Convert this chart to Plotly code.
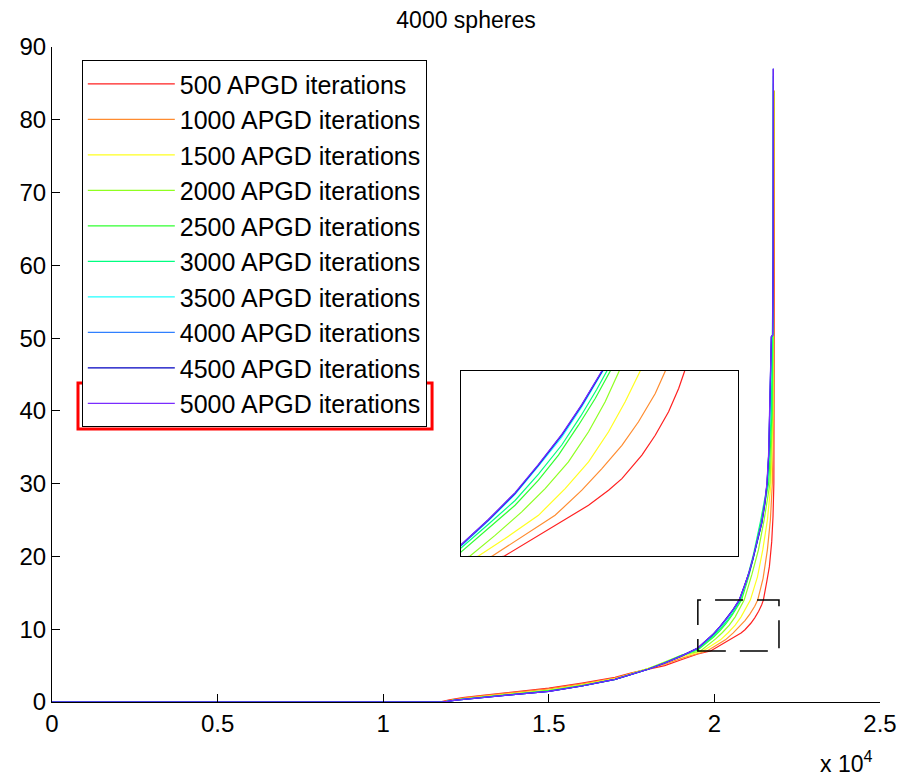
import plotly.graph_objects as go

# ---------------- data ----------------
series_names = ["500 APGD iterations", "1000 APGD iterations", "1500 APGD iterations",
                "2000 APGD iterations", "2500 APGD iterations", "3000 APGD iterations",
                "3500 APGD iterations", "4000 APGD iterations", "4500 APGD iterations",
                "5000 APGD iterations"]
series_colors = ["#ff2020", "#ff8c30", "#ffff20", "#90ff20", "#30ff30", "#00ff80",
                 "#20ffff", "#3080ff", "#0000c0", "#7a2cff"]

x_500 = [0, 11700, 12000, 12400, 13000, 14000, 15000, 16000, 17000, 17500, 18000, 18500, 19000, 19500,
         19884, 20037, 20214, 20450, 20628, 20805, 20923, 21100, 21218, 21336, 21425, 21478,
         21580, 21660, 21730, 21770, 21795, 21805, 21810, 21810]
y_500 = [0, 0, 0.3, 0.6, 0.9, 1.4, 1.9, 2.6, 3.4, 4.0, 4.5, 5.0, 5.8, 6.6,
         7.0, 7.4, 7.85, 8.48, 8.92, 9.49, 9.93, 10.82, 11.57, 12.46, 13.34, 14.0,
         16.5, 18.6, 22.0, 25.5, 30.0, 40.0, 60.0, 84.0]

x_1000 = [0, 11750, 12100, 12500, 13000, 14000, 15000, 16000, 17000, 18000, 18500, 19000, 19500,
          19777, 20037, 20332, 20569, 20746, 20923, 21070, 21218, 21307,
          21470, 21600, 21690, 21750, 21790, 21800, 21800]
y_1000 = [0, 0, 0.3, 0.6, 0.85, 1.3, 1.8, 2.5, 3.3, 4.6, 5.2, 6.0, 6.6,
          7.0, 7.72, 8.54, 9.49, 10.31, 11.19, 12.08, 13.15, 14.0,
          17.0, 20.9, 25.0, 30.1, 40.0, 60.0, 84.0]

x_1500 = [0, 11800, 12200, 13000, 14000, 15000, 16000, 17000, 18000, 18500, 19000,
          19654, 19890, 20185, 20421, 20628, 20805, 20952, 21085,
          21300, 21460, 21600, 21710, 21770, 21790, 21795]
y_1500 = [0, 0, 0.3, 0.75, 1.2, 1.65, 2.35, 3.2, 4.6, 5.4, 6.2,
          7.0, 7.66, 8.54, 9.55, 10.56, 11.70, 12.84, 14.0,
          17.2, 20.9, 25.0, 30.1, 40.0, 60.0, 84.0]

x_2000 = [0, 11800, 12200, 13000, 14000, 15000, 16000, 17000, 18000, 18500, 19000,
          19580, 19801, 20037, 20244, 20450, 20628, 20775, 20899,
          21130, 21330, 21500, 21680, 21760, 21785, 21790]
y_2000 = [0, 0, 0.3, 0.7, 1.15, 1.6, 2.3, 3.15, 4.6, 5.5, 6.4,
          7.0, 7.78, 8.67, 9.55, 10.56, 11.70, 12.84, 14.0,
          17.5, 20.9, 25.0, 30.1, 40.0, 60.0, 84.0]

x_2500 = [0, 11800, 12200, 13000, 14000, 15000, 16000, 17000, 18000, 18500, 19000,
          19500, 19742, 19978, 20185, 20362, 20539, 20687, 20820,
          21040, 21230, 21420, 21640, 21740, 21780, 21785]
y_2500 = [0, 0, 0.3, 0.7, 1.1, 1.55, 2.25, 3.1, 4.5, 5.4, 6.4,
          7.15, 8.04, 8.92, 9.87, 10.82, 11.95, 12.96, 14.0,
          17.3, 20.9, 25.0, 30.1, 40.0, 60.0, 84.0]

x_3000 = [0, 11800, 12200, 13000, 14000, 15000, 16000, 17000, 18000, 18500, 19000,
          19500, 19742, 19978, 20185, 20391, 20560, 20700, 20790,
          20990, 21190, 21400, 21610, 21720, 21775, 21782]
y_3000 = [0, 0, 0.28, 0.68, 1.08, 1.5, 2.22, 3.1, 4.5, 5.38, 6.35,
          7.3, 8.2, 9.1, 10.1, 11.2, 12.3, 13.3, 14.0,
          17.0, 20.5, 25.0, 30.1, 40.0, 60.0, 85.0]

x_3500 = [0, 11800, 12200, 13000, 14000, 15000, 16000, 17000, 18000, 18500, 19000,
          19500, 19742, 19978, 20185, 20391, 20569, 20755,
          20905, 21055, 21165, 21305, 21435, 21535, 21595, 21645, 21665, 21725, 21765, 21778, 21780]
y_3500 = [0, 0, 0.25, 0.65, 1.05, 1.45, 2.2, 3.1, 4.5, 5.35, 6.3,
          7.38, 8.33, 9.33, 10.4, 11.5, 12.65, 14.0,
          15.8, 17.8, 19.6, 22.0, 24.6, 27.5, 30.1, 34.0, 38.7, 50.2, 50.4, 62.0, 86.0]

x_4000 = [0, 11800, 12200, 13000, 14000, 15000, 16000, 17000, 18000, 18500, 19000,
          19500, 19742, 19978, 20185, 20391, 20569, 20749,
          20900, 21050, 21160, 21300, 21430, 21530, 21590, 21640, 21660, 21720, 21760, 21775, 21780]
y_4000 = [0, 0, 0.25, 0.65, 1.05, 1.45, 2.2, 3.1, 4.5, 5.35, 6.3,
          7.4, 8.35, 9.36, 10.44, 11.57, 12.71, 14.0,
          15.8, 17.8, 19.6, 22.0, 24.6, 27.5, 30.1, 34.0, 38.7, 50.2, 50.4, 62.0, 87.0]

x_4500 = [0, 11800, 12200, 13000, 14000, 15000, 16000, 17000, 18000, 18500, 19000,
          19500, 19742, 19978, 20185, 20391, 20569, 20749,
          20900, 21050, 21160, 21300, 21430, 21530, 21590, 21640, 21660, 21720, 21760, 21775, 21780]
y_4500 = [0, 0, 0.25, 0.65, 1.05, 1.45, 2.2, 3.1, 4.5, 5.35, 6.3,
          7.42, 8.37, 9.38, 10.45, 11.58, 12.72, 14.0,
          15.8, 17.8, 19.6, 22.0, 24.6, 27.5, 30.1, 34.0, 38.7, 50.2, 50.4, 62.0, 87.0]

x_5000 = [0, 11800, 12200, 13000, 14000, 15000, 16000, 17000, 18000, 18500, 19000,
          19500, 19742, 19978, 20185, 20391, 20569, 20745,
          20895, 21045, 21155, 21295, 21425, 21525, 21585, 21635, 21655, 21718, 21758, 21773, 21778]
y_5000 = [0, 0, 0.25, 0.65, 1.05, 1.45, 2.2, 3.1, 4.5, 5.35, 6.3,
          7.42, 8.38, 9.4, 10.47, 11.6, 12.74, 14.0,
          15.8, 17.8, 19.6, 22.0, 24.6, 27.5, 30.1, 34.0, 38.7, 50.2, 50.4, 62.0, 87.0]

series_x = [x_500, x_1000, x_1500, x_2000, x_2500, x_3000, x_3500, x_4000, x_4500, x_5000]
series_y = [y_500, y_1000, y_1500, y_2000, y_2500, y_3000, y_3500, y_4000, y_4500, y_5000]

x_tick_vals = [0, 5000, 10000, 15000, 20000, 25000]
x_tick_text = ["0", "0.5", "1", "1.5", "2", "2.5"]
y_tick_vals = [0, 10, 20, 30, 40, 50, 60, 70, 80, 90]

zoom_x = [19500, 21950]
zoom_y = [7, 14]

FONT = "Liberation Sans, Arial, Helvetica, sans-serif"

fig = go.Figure()
for name, col, xs, ys in zip(series_names, series_colors, series_x, series_y):
    fig.add_trace(go.Scatter(x=xs, y=ys, mode="lines", name=name,
                             line=dict(color=col, width=1.2), xaxis="x", yaxis="y"))
for name, col, xs, ys in zip(series_names, series_colors, series_x, series_y):
    fig.add_trace(go.Scatter(x=xs, y=ys, mode="lines", name=name, showlegend=False,
                             line=dict(color=col, width=1.2), xaxis="x2", yaxis="y2"))

# the page body has an 8px margin, so the figure is 8px smaller than the window
fig.update_layout(
    width=903, height=771,
    margin=dict(l=44, r=31, t=39, b=77),
    paper_bgcolor="white", plot_bgcolor="white",
    font=dict(family=FONT, size=24, color="black"),
    title=dict(text="4000 spheres", x=0.5, xref="paper", xanchor="center",
               y=1, yref="container", yanchor="top", pad=dict(t=4), font=dict(size=23)),
    xaxis=dict(range=[0, 25000], tickvals=x_tick_vals, ticktext=x_tick_text,
               ticks="inside", ticklen=8, tickcolor="black", showline=True,
               linecolor="black", linewidth=1, showgrid=False, zeroline=False,
               mirror=False, domain=[0, 1], anchor="y"),
    yaxis=dict(range=[0, 90], tickvals=y_tick_vals, ticks="inside", ticklen=8,
               tickcolor="black", showline=True, linecolor="black", linewidth=1,
               showgrid=False, zeroline=False, mirror=False, domain=[0, 1], anchor="x"),
    xaxis2=dict(range=zoom_x, domain=[0.494, 0.8285], anchor="y2", showticklabels=False,
                ticks="", showline=True, mirror=True, linecolor="black", linewidth=1,
                showgrid=False, zeroline=False),
    yaxis2=dict(range=zoom_y, domain=[0.2229, 0.5053], anchor="x2", showticklabels=False,
                ticks="", showline=True, mirror=True, linecolor="black", linewidth=1,
                showgrid=False, zeroline=False),
    legend=dict(x=0.036, y=0.980, xanchor="left", yanchor="top", bgcolor="white",
                bordercolor="black", borderwidth=1, font=dict(size=25),
                itemwidth=87, tracegroupgap=0),
    showlegend=True,
)

# dashed zoom rectangle on the main axes
fig.add_shape(type="rect", xref="x", yref="y", x0=zoom_x[0], x1=zoom_x[1],
              y0=zoom_y[0], y1=zoom_y[1], line=dict(color="black", width=1.5, dash="28px,14px"))

# red highlight around the last legend entry
fig.add_shape(type="rect", xref="paper", yref="paper", x0=0.0314, x1=0.459, y0=0.4168, y1=0.487,
              line=dict(color="#ff0000", width=3))

fig.add_annotation(text="x 10<sup>4</sup>", xref="paper", yref="paper", x=0.959, y=-0.0916,
                   showarrow=False, xanchor="center", yanchor="middle", font=dict(size=23))

fig.write_html("out.html")
